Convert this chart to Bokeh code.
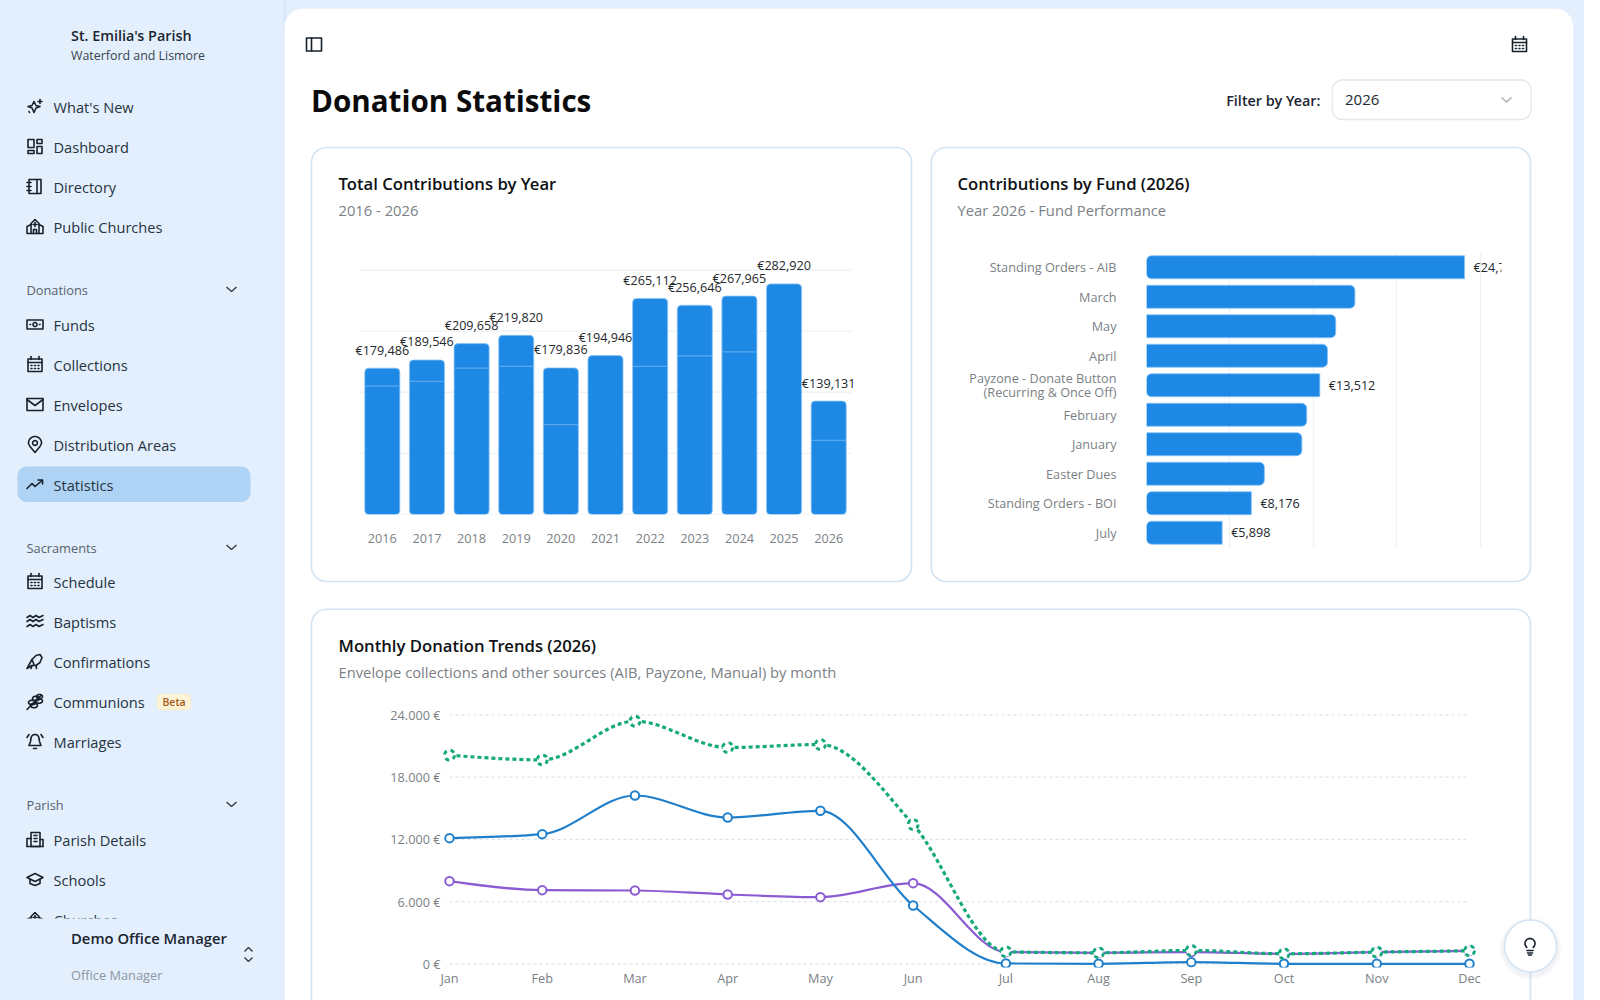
import numpy as np
from bokeh.core.properties import value
from bokeh.embed import file_html
from bokeh.models import (ColumnDataSource, FactorRange, FixedTicker, GlobalInlineStyleSheet,
                          LabelSet, Range1d, CDSView, IndexFilter, Pane)
from bokeh.plotting import figure
from bokeh.resources import INLINE

FONT = "Open Sans"
TF = value(FONT)
SB = value("Open Sans SemiBold")
SIDE = "#e3effc"
BAR = "#1e88e5"
GREY = "#7b7f85"

# ---------- chart data ----------
years = ["2016", "2017", "2018", "2019", "2020", "2021", "2022", "2023", "2024", "2025", "2026"]
year_totals = [179486, 189546, 209658, 219820, 179836, 194946, 265112, 256646, 267965, 282920, 139131]
split_years = ["2016", "2017", "2018", "2019", "2020", "2022", "2023", "2024", "2026"]
split_values = [157600, 163300, 179600, 181700, 110200, 181700, 194700, 199600, 91000]
year_ticks = [0, 75000, 150000, 225000, 300000]

funds = ["Standing Orders - AIB", "March", "May", "April",
         "Payzone - Donate Button\n(Recurring & Once Off)", "February", "January",
         "Easter Dues", "Standing Orders - BOI", "July"]
fund_values = [24790, 16245, 14750, 14110, 13512, 12490, 12110, 9187, 8176, 5898]
fund_labelled = [0, 4, 8, 9]
fund_ticks = [0, 6500, 13000, 19500, 26000]

months = ["Jan", "Feb", "Mar", "Apr", "May", "Jun", "Jul", "Aug", "Sep", "Oct", "Nov", "Dec"]
envelope = [12113, 12500, 16225, 14105, 14748, 5623, 32, 0, 160, 0, 0, 0]
other = [7968, 7100, 7069, 6683, 6426, 7775, 1125, 1060, 1125, 964, 1125, 1253]
total = [20113, 19664, 23391, 20852, 21142, 13430, 1157, 1060, 1285, 964, 1125, 1253]
money_ticks = [0, 6000, 12000, 18000, 24000]
money_labels = ["0 €", "6.000 €", "12.000 €", "18.000 €", "24.000 €"]

# ---------- page furniture ----------
nav_top = [("What's New", 107, "spark"), ("Dashboard", 147, "dash"), ("Directory", 187, "book"),
           ("Public Churches", 227, "church")]
nav_don = [("Funds", 325, "bill"), ("Collections", 365, "cal"), ("Envelopes", 405, "mail"),
           ("Distribution Areas", 445, "pin"), ("Statistics", 485, "trend")]
nav_sac = [("Schedule", 582, "cal"), ("Baptisms", 622, "wave"), ("Confirmations", 662, "bird"),
           ("Communions", 702, "wheat"), ("Marriages", 742, "bell")]
nav_par = [("Parish Details", 840, "bldg"), ("Schools", 880, "cap"), ("Churches", 920, "church")]
groups = [("Donations", 290), ("Sacraments", 548), ("Parish", 805)]


def ring(cx, cy, rx, ry=None, a0=0, a1=360):
    ry = rx if ry is None else ry
    t = np.radians(np.linspace(a0, a1, 25))
    return list(zip(cx + rx * np.cos(t), cy + ry * np.sin(t)))


def box(x0, y0, x1, y1):
    return [(x0, y0), (x1, y0), (x1, y1), (x0, y1), (x0, y0)]


ICONS = {
    "spark": [[(-1, -5), (1, -1), (5, 0), (1, 1.5), (-1, 6), (-3, 1.5), (-7, 0), (-3, -1), (-1, -5)],
              [(5, -7), (5, -3)], [(3, -5), (7, -5)], [(-6, 5), (-5.5, 6)]],
    "dash": [box(-7, -7, -1, 1), box(2, -7, 7, -3), box(2, 0, 7, 7), box(-7, 4, -1, 7)],
    "book": [box(-6, -7, 6, 7), [(2, -7), (2, 7)], [(-8, -4), (-4, -4)], [(-8, 0), (-4, 0)], [(-8, 4), (-4, 4)]],
    "church": [[(-8, 7), (-8, 0), (-4, -2), (-4, -3), (0, -7), (4, -3), (4, -2), (8, 0), (8, 7), (-8, 7)],
               [(-4, -2), (-4, 7)], [(4, -2), (4, 7)], [(0, -4), (0, 0)], [(-2, -2), (2, -2)],
               [(-1.5, 7), (-1.5, 3), (1.5, 3), (1.5, 7)]],
    "bill": [box(-8, -4.5, 8, 4.5), ring(0, 0, 2), [(-5, 0), (-4.4, 0)], [(4.4, 0), (5, 0)]],
    "cal": [box(-7, -5.5, 7, 7), [(-7, -2), (7, -2)], [(-4, -8), (-4, -5)], [(4, -8), (4, -5)],
            [(-4, 1), (-3, 1)], [(-0.5, 1), (0.5, 1)], [(3, 1), (4, 1)], [(-4, 4), (-3, 4)], [(-0.5, 4), (0.5, 4)], [(3, 4), (4, 4)]],
    "mail": [box(-8, -6, 8, 6), [(-8, -5), (0, 1), (8, -5)]],
    "pin": [[(0, 8), (-5, 2), (-6.5, -1)] + ring(0, -1.5, 6.5, 6.5, 180, 360) + [(6.5, -1), (5, 2), (0, 8)], ring(0, -1.5, 2.4)],
    "trend": [[(-8, 4), (-3, -1), (0, 2), (7, -4)], [(3, -4.5), (7.5, -4.5), (7.5, -0.5)]],
    "wave": [[(-8, -4), (-5, -6), (-2, -4), (1, -6), (4, -4), (8, -6)], [(-8, 0), (-5, -2), (-2, 0), (1, -2), (4, 0), (8, -2)],
             [(-8, 5), (-5, 3), (-2, 5), (1, 3), (4, 5), (8, 3)]],
    "bird": [[(-8, 7), (-3, -2), (1, -6), (5, -7), (7, -4), (5, 1), (1, 4), (-3, 4), (-8, 7)], [(-3, 4), (-4, 7)], [(1, 4), (1.5, 7)], [(-3, -2), (-1, 3)]],
    "wheat": [[(-8, 8), (6, -6)], ring(-3, 1, 3.5, 2.2), ring(1, -3, 3.5, 2.2), ring(-1, 4, 3.5, 2.2), ring(4, -0.5, 3.5, 2.2), ring(4.5, -5, 3, 2)],
    "bell": [[(-6, 4), (-4.5, 0), (-4, -3)] + ring(0, -3, 4, 4, 180, 360) + [(4.5, 0), (6, 4), (-6, 4)], [(-1.5, 7), (1.5, 7)],
             [(-8, -4), (-6, -7)], [(8, -4), (6, -7)]],
    "bldg": [box(-4, -7, 5, 7), [(-8, 7), (-8, -1), (-4, -1)], [(8, 7), (8, 0), (5, 0)], [(-1, -4), (2, -4)], [(-1, -1), (2, -1)], [(-1, 2), (2, 2)], [(-8, 7), (8, 7)]],
    "cap": [[(-8, -2), (0, -6), (8, -2), (0, 2), (-8, -2)], [(-5, 0), (-5, 4), (0, 6), (5, 4), (5, 0)]],
}

bg = figure(width=1585, height=1001, x_range=Range1d(0, 1585), y_range=Range1d(1001, 0),
            output_backend="svg", toolbar_location=None, min_border=0,
            background_fill_color=SIDE, border_fill_color=SIDE, outline_line_color=None,
            styles={"position": "absolute", "left": "0px", "top": "0px"})
bg.axis.visible = False
bg.grid.visible = False

# panel + cards
bg.quad(left=[284.5], right=[285.5], top=[0], bottom=[1001], color="#d6e5f5")
bg.quad(left=[285], right=[1574], top=[9], bottom=[1040], fill_color="white", line_color="#eaf2fb",
        border_radius=18)
for l, r, t, b in [(312, 912, 148, 582), (931.7, 1531, 148, 582), (312, 1531, 609.7, 1100)]:
    bg.quad(left=[l], right=[r], top=[t], bottom=[b], fill_color="white", line_color="#d3e3f2",
            line_width=1.6, border_radius=15)

# selected nav item
bg.quad(left=[18], right=[251], top=[467], bottom=[502.5], fill_color="#aed3f5", line_color=None, border_radius=9)

paths = {"x": [], "y": []}


def add_icon(name, cx, cy, scale=1.0):
    for pl in ICONS[name]:
        paths["x"].append([cx + scale * p[0] for p in pl])
        paths["y"].append([cy + scale * p[1] for p in pl])


all_nav = nav_top + nav_don + nav_sac + nav_par
for label, y, ic in all_nav:
    add_icon(ic, 35.5, y)
bg.multi_line(paths["x"], paths["y"], line_color="#17212b", line_width=1.6, line_join="round", line_cap="round")
paths = {"x": [], "y": []}
bg.text(x=[54] * len(all_nav), y=[n[1] for n in all_nav], text=[n[0] for n in all_nav], text_font=TF,
        text_font_size="14.6px", text_color="#263340", text_baseline="middle")

bg.text(x=[27] * 3, y=[g[1] for g in groups], text=[g[0] for g in groups], text_font=TF,
        text_font_size="12.8px", text_color="#56626f", text_baseline="middle")

# sidebar header/footer
bg.quad(left=[0], right=[284], top=[919], bottom=[1001], fill_color=SIDE, line_color=None)
bg.text(x=[71.5], y=[36], text=["St. Emilia's Parish"], text_font=SB, text_font_size="14.4px",
        text_color="#1b2530", text_baseline="middle")
bg.text(x=[71.5], y=[55.5], text=["Waterford and Lismore"], text_font=TF, text_font_size="12.4px",
        text_color="#37434f", text_baseline="middle")
bg.text(x=[71.5], y=[938], text=["Demo Office Manager"], text_font=SB, text_font_size="14.8px",
        text_color="#1b2530", text_baseline="middle")
bg.text(x=[71.5], y=[975], text=["Office Manager"], text_font=TF, text_font_size="12.8px",
        text_color="#8b96a3", text_baseline="middle")
bg.quad(left=[158], right=[191], top=[695], bottom=[710], fill_color="#fdf3d6", line_color="#fbeec4", border_radius=3)
bg.text(x=[174.5], y=[702.5], text=["Beta"], text_font=SB, text_font_size="10.5px",
        text_color="#a05a1c", text_align="center", text_baseline="middle")

# page header
bg.text(x=[311.5], y=[100.5], text=["Donation Statistics"], text_font=TF, text_font_size="29.6px",
        text_font_style="bold", text_color="#0b0b0c", text_baseline="middle")
bg.text(x=[1226.7], y=[100.5], text=["Filter by Year:"], text_font=SB, text_font_size="14.4px",
        text_color="#1b2530", text_baseline="middle")
bg.quad(left=[1332.7], right=[1531.7], top=[80.5], bottom=[120], fill_color="white", line_color="#e4e6e9",
        line_width=1.3, border_radius=10)
bg.text(x=[1345.5], y=[100.5], text=["2026"], text_font=TF, text_font_size="15px", text_color="#222a32",
        text_baseline="middle")

chev = {"x": [], "y": []}
for label, y in groups:
    chev["x"].append([227, 232, 237])
    chev["y"].append([y - 2.5, y + 2, y - 2.5])
chev["x"] += [[245, 249, 253], [245, 249, 253], [1502, 1507, 1512]]
chev["y"] += [[952, 948, 952], [958, 962, 958], [98, 102.5, 98]]
bg.multi_line(chev["x"][:5], chev["y"][:5], line_color="#333c46", line_width=1.4)
bg.multi_line(chev["x"][5:], chev["y"][5:], line_color="#a8adb3", line_width=1.4)

# card headings
for x, y, s in [(339, 184, "Total Contributions by Year"), (958, 184, "Contributions by Fund (2026)"),
                (339, 645.5, "Monthly Donation Trends (2026)")]:
    bg.text(x=[x], y=[y], text=[s], text_font=SB, text_font_size="16.7px",
            text_color="#0e1114", text_baseline="middle")
for x, y, s in [(339, 210, "2016 - 2026"), (958, 210, "Year 2026 - Fund Performance"),
                (339, 672, "Envelope collections and other sources (AIB, Payzone, Manual) by month")]:
    bg.text(x=[x], y=[y], text=[s], text_font=TF, text_font_size="14.75px", text_color=GREY,
            text_baseline="middle")

# header icons
add_icon("cal", 1520, 45, 1.0)
paths["x"].append([p[0] for p in box(307, 38.5, 322, 51.5)]); paths["y"].append([p[1] for p in box(307, 38.5, 322, 51.5)])
paths["x"].append([312, 312]); paths["y"].append([38.5, 51.5])

# floating help button
for r_, a_ in [(31, .04), (29, .05)]:
    bg.circle(x=[1531], y=[949], radius=r_, fill_color="#5b7ea5", fill_alpha=a_, line_color=None)
bg.circle(x=[1531], y=[946.5], radius=26, fill_color="white", line_color="#d3e3f2", line_width=1.5)
bulb = ring(1530.5, 944, 5, 5, 130, 410)
paths["x"] += [[p[0] for p in bulb], [1527.5, 1533.5], [1528, 1533], [1529, 1532]]
paths["y"] += [[p[1] for p in bulb], [951, 951], [953.5, 953.5], [955.5, 955.5]]

bg.multi_line(paths["x"], paths["y"], line_color="#17212b", line_width=1.6, line_join="round", line_cap="round")


def overlay(left, top, width, height, x_range, y_range, borders):
    p = figure(width=width, height=height, x_range=x_range, y_range=y_range, output_backend="svg",
               toolbar_location=None, background_fill_color=None, border_fill_color=None,
               outline_line_color=None, min_border_left=borders[0], min_border_right=borders[1],
               min_border_top=borders[2], min_border_bottom=borders[3],
               styles={"position": "absolute", "left": f"{left}px", "top": f"{top}px"})
    for a in p.axis:
        a.axis_line_color = None
        a.major_tick_line_color = None
        a.minor_tick_line_color = None
        a.major_tick_out = 0
        a.major_tick_in = 0
        a.minor_tick_out = 0
        a.major_label_text_font = FONT
        a.major_label_text_color = GREY
        a.major_label_text_font_size = "12.7px"
    return p


# ---------- chart 1: contributions by year ----------
c1 = overlay(340, 240, 540, 320,
             FactorRange(factors=years, range_padding=0.28, range_padding_units="absolute"),
             Range1d(0, 330000), (8, 16, 6, 45))
c1.yaxis.visible = False
c1.grid.visible = False
c1.xaxis.major_label_standoff = 19
c1.segment(x0=[0] * 5, x1=[len(years)] * 5, y0=year_ticks, y1=year_ticks, line_color="#edf2f6", line_width=1.4)
src1 = ColumnDataSource(dict(year=years, total=year_totals, label=[f"€{v:,}" for v in year_totals]))
c1.vbar(x="year", top="total", width=0.785, source=src1, fill_color=BAR, line_color="#8cc4f5",
        line_width=0.8, border_radius=4)
c1.vbar(x=split_years, bottom=split_values, top=split_values, width=0.77, line_color="#58a8f0", line_width=1.2,
        fill_color=None)
c1.add_layout(LabelSet(x="year", y="total", text="label", source=src1, y_offset=18, text_align="center",
                       text_baseline="middle", text_font=TF, text_font_size="12.6px", text_color="#24282c"))

# ---------- chart 2: contributions by fund ----------
c2 = overlay(940, 248, 580, 305, Range1d(0, 27670), FactorRange(factors=funds[::-1], range_padding=0),
             (207, 18, 5, 5))
c2.xaxis.visible = False
c2.ygrid.visible = False
c2.xgrid.ticker = FixedTicker(ticks=fund_ticks)
c2.xgrid.grid_line_color = "#edf2f6"
c2.xgrid.grid_line_width = 1.4
c2.yaxis.major_label_standoff = 30
c2.yaxis.major_label_text_line_height = 0.76
src2 = ColumnDataSource(dict(fund=funds, value=fund_values, label=[f"€{v:,}" for v in fund_values]))
with_label = CDSView(filter=IndexFilter(fund_labelled))
without_label = CDSView(filter=IndexFilter([i for i in range(len(funds)) if i not in fund_labelled]))
c2.hbar(y="fund", right="value", left=0, height=0.78, source=src2, view=with_label, fill_color=BAR,
        line_color="#8cc4f5", line_width=0.8, border_radius=(5, 0, 0, 5))
c2.hbar(y="fund", right="value", left=0, height=0.78, source=src2, view=without_label, fill_color=BAR,
        line_color="#8cc4f5", line_width=0.8, border_radius=(0, 5, 5, 0))
c2.text(x="value", y="fund", text="label", source=src2, view=with_label, x_offset=9, text_baseline="middle",
        text_font=TF, text_font_size="12.6px", text_color="#24282c")

# ---------- chart 3: monthly trends ----------
c3 = overlay(380, 700, 1120, 295, Range1d(-0.0755, 11.216), Range1d(-357, 25000), (63, 10, 5, 27))
c3.grid.visible = False
c3.xaxis.ticker = FixedTicker(ticks=list(range(len(months))))
c3.xaxis.major_label_overrides = dict(enumerate(months))
c3.xaxis.major_label_standoff = 1
c3.yaxis.ticker = FixedTicker(ticks=money_ticks)
c3.yaxis.major_label_overrides = dict(zip(money_ticks, money_labels))
c3.yaxis.major_label_standoff = 2
seg = c3.segment(x0=[0] * 5, x1=[10.97] * 5, y0=money_ticks, y1=money_ticks, line_color="#dfe2e6", line_width=1.2)
seg.glyph.line_dash = [3, 3]


def curve(values):
    """Cubic control points (monotone tangents) for Bokeh's bezier glyph through the read values."""
    y = np.asarray(values, float)
    s = np.diff(y)
    t = np.zeros_like(y)
    for i in range(1, len(y) - 1):
        t[i] = (np.sign(s[i - 1]) + np.sign(s[i])) * min(abs(s[i - 1]), abs(s[i]), 0.25 * abs(s[i - 1] + s[i]))
    t[0] = (3 * s[0] - t[1]) / 2
    t[-1] = (3 * s[-1] - t[-2]) / 2
    x = np.arange(len(y), dtype=float)
    return dict(x0=x[:-1], y0=y[:-1], x1=x[1:], y1=y[1:], cx0=x[:-1] + 1 / 3, cy0=y[:-1] + t[:-1] / 3,
                cx1=x[1:] - 1 / 3, cy1=y[1:] - t[1:] / 3)


for series, colour in [(other, "#8a5bd2"), (envelope, "#1f7fcb")]:
    c3.bezier(source=ColumnDataSource(curve(series)), x0="x0", y0="y0", x1="x1", y1="y1", cx0="cx0", cy0="cy0",
              cx1="cx1", cy1="cy1", line_color=colour, line_width=2.2)
    c3.scatter(x=list(range(len(months))), y=series, size=8.5, marker="circle", fill_color="white",
               line_color=colour, line_width=2)
bz = c3.bezier(source=ColumnDataSource(curve(total)), x0="x0", y0="y0", x1="x1", y1="y1", cx0="cx0", cy0="cy0",
               cx1="cx1", cy1="cy1", line_color="#14a97c", line_width=3.2)
bz.glyph.line_dash = [4, 3]
mk = c3.scatter(x=list(range(len(months))), y=total, size=10, marker="circle", fill_color="white",
                line_color="#14a97c", line_width=3)
mk.glyph.line_dash = [4, 4]

css = GlobalInlineStyleSheet(css="html,body{margin:0;padding:0;background:#fff;overflow:hidden;}")
page = Pane(elements=[bg, c1, c2, c3], stylesheets=[css],
            styles={"position": "absolute", "left": "-1px", "top": "-1px", "display": "block",
                    "width": "1585px", "height": "1001px"})

open("out.html", "w").write(file_html(page, INLINE))
